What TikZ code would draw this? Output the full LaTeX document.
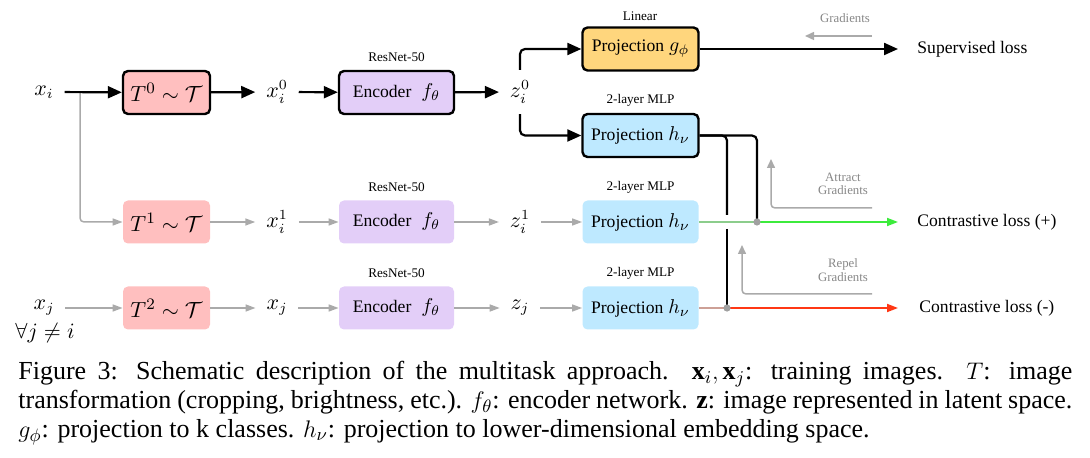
\documentclass[tikz,border=0pt]{standalone}
\usepackage{fontspec}
\setmainfont{Liberation Serif}
\usetikzlibrary{arrows.meta,calc}
\definecolor{tpink}{RGB}{255,191,191}
\definecolor{encpurple}{RGB}{227,206,248}
\definecolor{gorange}{RGB}{255,214,125}
\definecolor{hblue}{RGB}{190,233,255}
\definecolor{arrgray}{RGB}{170,170,170}
\definecolor{txtgray}{RGB}{135,135,135}
\definecolor{dotgray}{RGB}{160,160,160}
\definecolor{brgreen}{RGB}{60,235,60}
\definecolor{lgreen}{RGB}{140,205,140}
\definecolor{brred}{RGB}{255,55,20}
\definecolor{lred}{RGB}{205,160,150}
\newcommand{\tx}[1]{{\fontsize{8.8}{10}\selectfont #1}}
\begin{document}
\begin{tikzpicture}[x=0.5pt,y=-0.5pt,
  box/.style={rounded corners=2.5pt, minimum height=21.5pt, inner sep=0pt, font=\fontsize{10}{12}\selectfont},
  active/.style={draw=black, line width=1.2pt},
  tbox/.style={box, fill=tpink, minimum width=43.5pt, font=\fontsize{11}{12}\selectfont},
  encbox/.style={box, fill=encpurple, minimum width=57.5pt},
  gbox/.style={box, fill=gorange, minimum width=58pt},
  hbox/.style={box, fill=hblue, minimum width=58pt},
  mlabel/.style={inner sep=0pt, outer sep=5.5pt, font=\fontsize{10.5}{12}\selectfont},
  small/.style={inner sep=0pt, font=\fontsize{6.6}{8}\selectfont},
  graytext/.style={inner sep=0pt, align=center, text=txtgray, font=\fontsize{6.4}{8}\selectfont},
  losstext/.style={inner sep=0pt, anchor=west, font=\fontsize{8.8}{10}\selectfont},
  blk/.style={line width=1.1pt, -{Triangle[length=7pt,width=6pt]}},
  blkline/.style={line width=1.1pt, rounded corners=2.5pt},
  gry/.style={draw=arrgray, line width=0.75pt, -{Triangle[length=5pt,width=3.5pt]}},
  grad/.style={draw=arrgray, line width=0.75pt, rounded corners=2pt, -{Triangle[length=4.5pt,width=4pt]}},
]
\useasboundingbox (0,0) rectangle (1090,458);

% ---------- row 1 ----------
\node[mlabel] (xi) at (44,92) {$x_i$};
\node[tbox, active] (t0) at (166.5,92.5) {$T^0\sim\mathcal{T}$};
\node[mlabel] (xi0) at (277,92) {$x_i^0$};
\node[encbox, active] (e0) at (396.5,92.5) {\tx{Encoder}\enspace$f_\theta$};
\node[mlabel] (z0) at (520,92) {$z_i^0$};
\node[gbox, active] (g0) at (640.5,49) {\tx{Projection} $g_\phi$};
\node[hbox, active] (h0) at (640.5,135.5) {\tx{Projection} $h_\nu$};
\node[small] (lin) at (640,16) {Linear};
\node[small] (rn0) at (396.5,57) {ResNet-50};
\node[small] (mlp0) at (640.5,100) {2-layer MLP};

% ---------- row 2 ----------
\node[tbox] (t1) at (166.5,222) {$T^1\sim\mathcal{T}$};
\node[mlabel] (xi1) at (277,222) {$x_i^1$};
\node[encbox] (e1) at (396.5,222) {\tx{Encoder}\enspace$f_\theta$};
\node[mlabel] (z1) at (520,222) {$z_i^1$};
\node[hbox] (h1) at (640.5,222) {\tx{Projection} $h_\nu$};
\node[small] (rn1) at (396.5,187) {ResNet-50};
\node[small] (mlp1) at (640.5,187) {2-layer MLP};

% ---------- row 3 ----------
\node[mlabel] (xj) at (44,308) {$x_j$};
\node[mlabel] (fa) at (45,333) {$\forall j\neq i$};
\node[tbox] (t2) at (166.5,308) {$T^2\sim\mathcal{T}$};
\node[mlabel] (xj2) at (277,308) {$x_j$};
\node[encbox] (e2) at (396.5,308) {\tx{Encoder}\enspace$f_\theta$};
\node[mlabel] (zj) at (520,308) {$z_j$};
\node[hbox] (h2) at (640.5,308) {\tx{Projection} $h_\nu$};
\node[small] (rn2) at (396.5,273) {ResNet-50};
\node[small] (mlp2) at (640.5,273) {2-layer MLP};

% ---------- losses ----------
\node[losstext] (sup) at (917,49) {Supervised loss};
\node[losstext] (cp) at (917,222) {Contrastive loss (+)};
\node[losstext] (cm) at (919,308) {Contrastive loss (-)};

% ---------- gradient labels ----------
\node[graytext] (gtop) at (845,18) {Gradients};
\node[graytext] (gatt) at (843,184) {Attract\\[-1.2pt]Gradients};
\node[graytext] (grep) at (843,270) {Repel\\[-1.2pt]Gradients};

% ---------- coordinates ----------
\coordinate (br) at (80,92.5);
\coordinate (d1) at (757,222);
\coordinate (d2) at (727,308);
\coordinate (gapT) at (727,215);
\coordinate (gapB) at (727,229);
\coordinate (ga1) at (872,36);
\coordinate (ga2) at (805,36);
\coordinate (at1) at (872,208);
\coordinate (at2) at (771,159);
\coordinate (rp1) at (872,294);
\coordinate (rp2) at (742,245);

% ---------- gray (rows 2,3) ----------
\draw[gry, rounded corners=2pt] (br) |- (t1.west);
\draw[gry] (t1) -- (xi1);
\draw[gry] (xi1) -- (e1);
\draw[gry] (e1) -- (z1);
\draw[gry] (z1) -- (h1);
\draw[gry] (xj) -- (t2);
\draw[gry] (t2) -- (xj2);
\draw[gry] (xj2) -- (e2);
\draw[gry] (e2) -- (zj);
\draw[gry] (zj) -- (h2);

% ---------- black (row 1) ----------
\draw[blk] (xi) -- (t0);
\draw[blk] (t0) -- (xi0);
\draw[blk] (xi0) -- (e0);
\draw[blk] (e0) -- (z0);
\draw[blk, rounded corners=2.5pt] (z0.north) |- (g0.west);
\draw[blk, rounded corners=2.5pt] (z0.south) |- (h0.west);
\draw[blk, shorten >=9.5pt] (g0.east) -- (sup.west);

% ---------- contrastive wiring ----------
\draw[blkline] (h0.east) -| (d1);
\draw[blkline] (h0.east) -| (gapT);
\draw[line width=1.1pt] (gapB) -- (d2);

\draw[lgreen, line width=0.9pt] (h1.east) -- (d1);
\draw[brgreen, line width=0.9pt, -{Triangle[length=5.5pt,width=4pt]}, shorten >=9.5pt] (d1) -- (cp.west);
\draw[lred, line width=0.9pt] (h2.east) -- (d2);
\draw[brred, line width=0.9pt, -{Triangle[length=5.5pt,width=4pt]}, shorten >=10.5pt] (d2) -- (cm.west);
\fill[dotgray] (d1) circle (1.8pt);
\fill[dotgray] (d2) circle (1.8pt);

% ---------- gradient arrows ----------
\draw[grad] (ga1) -- (ga2);
\draw[grad] (at1) -| (at2);
\draw[grad] (rp1) -| (rp2);

% ---------- caption ----------
\node[anchor=north west, inner sep=0pt, text width=527pt, align=justify,
      font=\fontsize{13}{14.4}\selectfont] (cap) at (18,361)
{Figure 3: Schematic description of the multitask approach. $\mathbf{x}_i, \mathbf{x}_j$: training images. $T$: image\linebreak
transformation (cropping, brightness, etc.). $f_\theta$: encoder network. $\mathbf{z}$: image represented in latent space.\linebreak
$g_\phi$: projection to k classes. $h_\nu$: projection to lower-dimensional embedding space.};
\end{tikzpicture}
\end{document}
